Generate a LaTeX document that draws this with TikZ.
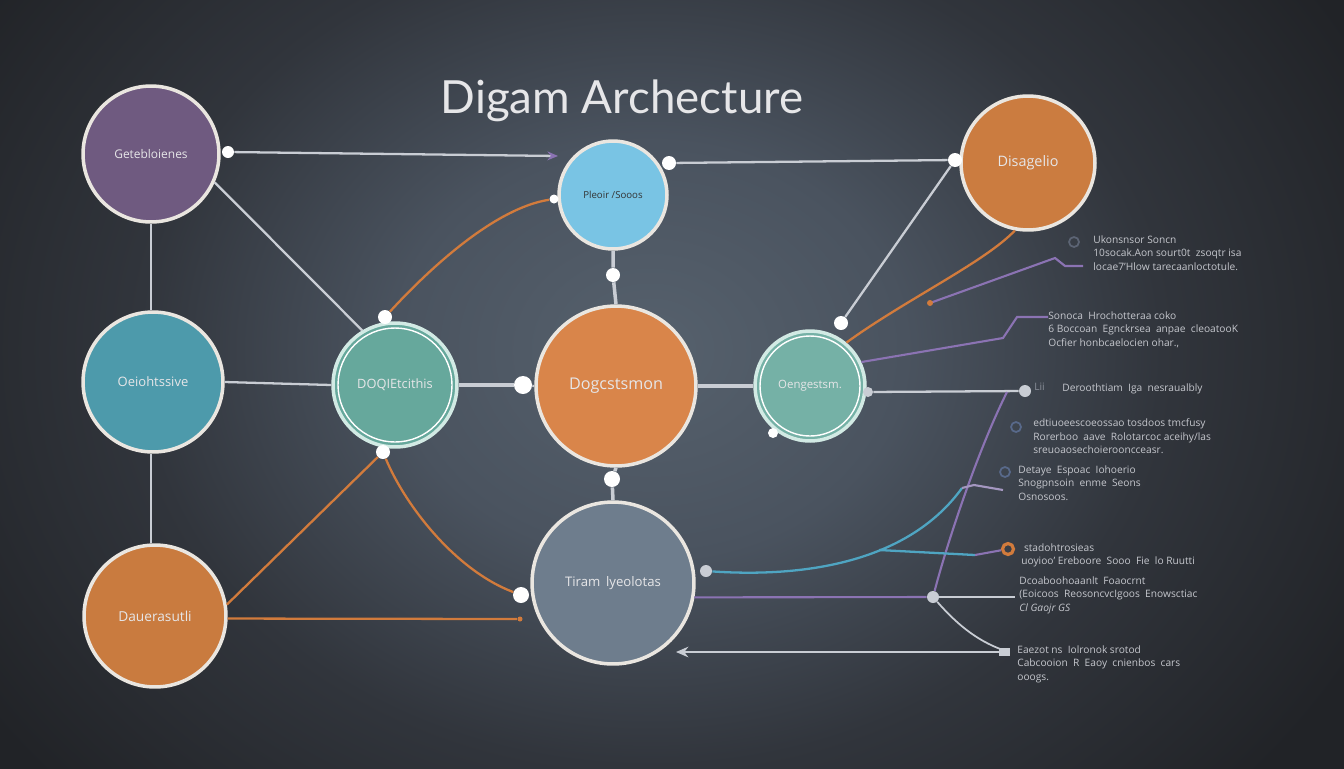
\documentclass[tikz,border=0pt]{standalone}
\usepackage{fontspec}
\setmainfont{Open Sans}
\newfontfamily\titlefont{Lato}
\usetikzlibrary{arrows.meta}
\definecolor{bgA}{HTML}{56616D}
\definecolor{bgB}{HTML}{4A535F}
\definecolor{bgC}{HTML}{31353C}
\definecolor{bgD}{HTML}{212327}
\definecolor{ringc}{HTML}{EAE6E0}
\definecolor{ringt}{HTML}{D2EAE4}
\definecolor{glc}{HTML}{C9CDD4}
\definecolor{orl}{HTML}{D27B3C}
\definecolor{pul}{HTML}{8B73B3}
\definecolor{bll}{HTML}{4FA5C2}
\definecolor{txc}{HTML}{E6E6E8}
\definecolor{smtx}{HTML}{C5C7CD}
\definecolor{dimtx}{HTML}{8A8F99}
\definecolor{cpur}{HTML}{6F5A80}
\definecolor{cblu}{HTML}{4D9AAB}
\definecolor{corg}{HTML}{C97B3F}
\definecolor{cteal}{HTML}{66A89C}
\definecolor{clb}{HTML}{79C4E4}
\definecolor{corc}{HTML}{D9854A}
\definecolor{cgry}{HTML}{6E7D8D}
\definecolor{ringg}{HTML}{5C6474}
\definecolor{ringb}{HTML}{58698A}
\pgfdeclareradialshading{bgshade}{\pgfpoint{0bp}{0bp}}{color(0bp)=(bgA); color(8bp)=(bgB); color(16bp)=(bgC); color(25bp)=(bgD); color(50bp)=(bgD)}
\begin{document}
\begin{tikzpicture}[x=0.02cm,y=-0.02cm,
  circ/.style={circle, draw=ringc, line width=2pt, inner sep=0pt, minimum size=#1*0.04cm, text=txc},
  dotn/.style={circle, fill=white, draw=none, inner sep=0pt, minimum size=#1*0.04cm},
  gline/.style={draw=glc, line width=1.3pt},
  oline/.style={draw=orl, line width=1.3pt},
  pline/.style={draw=pul, line width=1.2pt},
  bline/.style={draw=bll, line width=1.3pt},
  smtext/.style={text=smtx, font=\fontsize{5.8}{7.9}\selectfont, align=left, anchor=north west, inner sep=0pt},
  ringm/.style={circle, draw=#1, line width=1pt, inner sep=0pt, minimum size=0.2cm}
]
% background
\begin{scope}
\clip (0,0) rectangle (1344,768);
\shade[shading=bgshade] (-150,-300) rectangle (1450,1000);
\end{scope}
\useasboundingbox (0,0) rectangle (1344,768);

% title
\node[font=\titlefont\fontsize{26}{30}\selectfont, text=txc, anchor=base] (title) at (622,113) {Digam Archecture};

% circles
\node[circ=68, fill=cpur, font=\fontsize{6.8}{8}\selectfont] (P) at (151,154) {Getebloienes};
\node[circ=70, fill=cblu, font=\fontsize{7.4}{9}\selectfont] (B) at (153,382) {Oeiohtssive};
\node[circ=71, fill=corg, font=\fontsize{7.8}{9}\selectfont] (O1) at (155,616) {Dauerasutli};
\node[circ=62, fill=cteal, draw=ringt, font=\fontsize{7.3}{9}\selectfont] (Q) at (395,385) {DOQIEtcithis};
\node[circ=54, fill=clb, text=black!80, font=\fontsize{5.5}{7}\selectfont] (L) at (613,195) {Pleoir /Sooos};
\node[circ=80, fill=corc, font=\fontsize{9.2}{11}\selectfont] (C) at (616,386) {Dogcstsmon};
\node[circ=67, fill=corg!90!corc, font=\fontsize{8.2}{10}\selectfont] (R) at (1028,163) {Disagelio};
\node[circ=55, fill=cteal!90!white, draw=ringt, font=\fontsize{6.5}{8}\selectfont] (T) at (810,386) {Oengestsm.};
\node[circ=81, fill=cgry, font=\fontsize{7.5}{9}\selectfont] (G) at (613,583) {Tiram\, lyeolotas};
\draw[white, line width=0.8pt] (Q.center) circle (57);
\draw[white, line width=0.8pt] (T.center) circle (50);

% dots and coordinates
\node[dotn=6] (d1) at (228,152) {};
\node[dotn=4.5] (d2) at (554,199) {};
\node[dotn=7] (d3) at (385,317) {};
\node[dotn=9] (d4) at (523,385) {};
\node[dotn=7] (d5) at (613,275) {};
\node[dotn=7] (d6) at (669,163) {};
\node[dotn=7] (d7) at (955,160) {};
\node[dotn=7] (d8) at (841,323) {};
\node[dotn=8] (d9) at (612,479) {};
\node[dotn=7] (d10) at (383,452) {};
\node[dotn=8] (d11) at (521,595) {};
\node[dotn=5] (d12) at (773,433) {};
\node[dotn=5, fill=glc] (d13) at (868,392) {};
\node[dotn=6, fill=glc] (d14) at (1025,391) {};
\node[dotn=6, fill=glc] (d15) at (706,571) {};
\node[dotn=6, fill=glc] (d16) at (933,597) {};
\node[dotn=2.5, fill=orl] (d17) at (520,619) {};
\coordinate (a1) at (558,156);
\coordinate (a2) at (676,652);
\coordinate (c1) at (1007,392);
\coordinate (c2) at (962,488);
\coordinate (c3) at (1003,490);
\coordinate (c5) at (879,550);
\coordinate (c6) at (975,555);
\coordinate (c7) at (1015,597);
\coordinate (c8) at (1003,650);
\coordinate (c9) at (1003,652);
\coordinate (c10) at (930,303);
\coordinate (c11) at (1055,258);
\coordinate (c12) at (1065,266);
\coordinate (c13) at (1083,266);
\coordinate (c14) at (1003,338);
\coordinate (c15) at (1017,317);
\coordinate (c16) at (1048,317);

% ring markers
\node[ringm=ringg] (mA) at (1074,242) {};
\node[ringm=ringb] (mD) at (1016,427) {};
\node[ringm=ringb] (mE) at (1005,472) {};
\node[ringm=orl, line width=1.8pt, minimum size=0.22cm] (mF) at (1008,549) {};

% connectors
\draw[gline,-{Stealth[length=6pt,width=5pt,color=pul]}] (d1) -- (a1);
\draw[gline] (P.-24) -- (Q.121);
\draw[gline] (P.south) -- (P.south |- B.north);
\draw[gline] (B.south -| P.south) -- (P.south |- O1.north);
\draw[gline] (B.east) -- (Q.west);
\draw[oline] (d3) .. controls (430,268) and (495,208) .. (d2);
\draw[gline, line width=2pt] (Q.east) -- (d4);
\draw[gline] (d4) -- (C.west);
\draw[gline, line width=2pt] (L.south) -- (d5) -- (C.north);
\draw[gline] (d6) -- (d7);
\draw[gline] (d7) -- (d8);
\draw[oline] (R.259) .. controls (985,262) and (905,300) .. (T.50);
\draw[gline, line width=2pt] (C.east) -- (T.west);
\draw[gline, line width=2pt] (C.south) -- (d9) -- (G.north);
\draw[oline] (d10) -- (O1.9);
\draw[oline] (d10) .. controls (405,505) and (455,570) .. (d11);
\draw[oline] (O1.-2) -- (d17);
\draw[gline] (d13) -- (d14);
\draw[pline] (c1) .. controls (978,450) and (948,540) .. (d16);
\draw[bline] (d15) .. controls (810,578) and (910,560) .. (c2);
\draw[pline, draw=pul!60!glc] (c2) -- (974,485) -- (c3);
\draw[bline] (c5) -- (c6);
\draw[pline] (c6) -- (mF);
\draw[pline] (G.-10) -- (d16);
\draw[gline] (d16) -- (c7);
\draw[gline, line width=1pt] (d16) .. controls (955,622) and (975,640) .. (c8);
\draw[gline, {Stealth[length=7pt,width=6pt]}-] (a2) -- (c9);
\fill[glc] (999,648) rectangle (1010,656);
\draw[pline] (c10) -- (c11) -- (c12) -- (c13);
\fill[orl] (c10) circle (3);
\draw[pline] (T.25) -- (c14) -- (c15) -- (c16);

% text blocks
\node[smtext] (tA) at (1093,235) {Ukonsnsor Soncn\\10socak.Aon sourt0t\ \ zsoqtr isa\\locae7'Hlow tarecaanloctotule.};
\node[smtext] (tB) at (1048,311) {Sonoca\ \ Hrochotteraa coko\\6 Boccoan\ \ Egnckrsea\ \ anpae\ \ cleoatooK\\Ocfier honbcaelocien ohar.,};
\node[smtext, text=dimtx] (tC0) at (1034,383) {Lii};
\node[smtext] (tC) at (1062,383) {Deroothtiam\ \ Iga\ \ nesraualbly};
\node[smtext] (tD) at (1033,418) {edtiuoeescoeossao tosdoos tmcfusy\\Rorerboo\ \ aave\ \ Rolotarcoc aceihy/las\\sreuoaosechoierooncceasr.};
\node[smtext] (tE) at (1018,465) {Detaye\ \ Espoac\ \ Iohoerio\\Snogpnsoin\ \ enme\ \ Seons\\Osnosoos.};
\node[smtext] (tF) at (1021,543) {\ stadohtrosieas\\uoyioo' Ereboore\ \ Sooo\ \ Fie\ \ lo Ruutti};
\node[smtext] (tG) at (1019,576) {Dcoaboohoaanlt\ \ Foaocrnt\\(Eoicoos\ \ ReosoncvcIgoos\ \ Enowsctiac\\\textit{Cl Gaojr GS}};
\node[smtext] (tH) at (1017,645) {Eaezot ns\ \ Iolronok srotod\\Cabcooion\ \ R\ \ Eaoy\ \ cnienbos\ \ cars\\ooogs.};
\end{tikzpicture}
\end{document}
